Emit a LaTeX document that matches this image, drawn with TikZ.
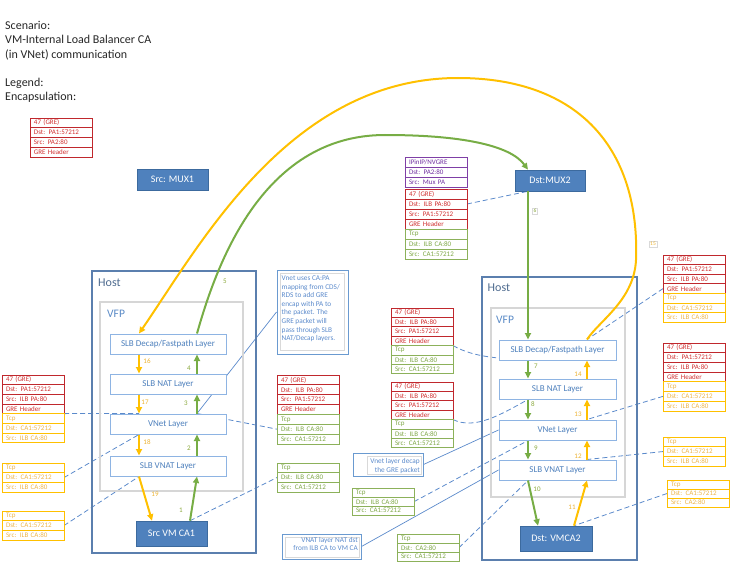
\documentclass[tikz,border=0pt]{standalone}
\usepackage{fontspec}
\setmainfont{Carlito}
\usetikzlibrary{arrows.meta}

\definecolor{boxblue}{HTML}{4F81BD}
\definecolor{boxedge}{HTML}{3C6A9E}
\definecolor{hostedge}{HTML}{5B7FAE}
\definecolor{hosttext}{HTML}{4E6B8F}
\definecolor{vfpedge}{HTML}{D6D6D6}
\definecolor{vfptext}{HTML}{5A8AC6}
\definecolor{layeredge}{HTML}{8EB4E3}
\definecolor{layertext}{HTML}{4F81BD}
\definecolor{linkblue}{HTML}{5B8ACB}
\definecolor{noteedge}{HTML}{6A9AD0}
\definecolor{notetext}{HTML}{5B8ACB}
\definecolor{greedge}{HTML}{C0282D}
\definecolor{gretext}{HTML}{D03030}
\definecolor{tcpgedge}{HTML}{8CB15A}
\definecolor{tcpgtext}{HTML}{7EA746}
\definecolor{tcpyedge}{HTML}{FFC000}
\definecolor{tcpytext}{HTML}{EDB54A}
\definecolor{ipedge}{HTML}{7F3FA6}
\definecolor{iptext}{HTML}{7030A0}
\definecolor{flowgreen}{HTML}{77AD45}
\definecolor{flowyellow}{HTML}{FFC000}
\definecolor{stepgreen}{HTML}{8AA83C}
\definecolor{stepyellow}{HTML}{EBB12F}

\pgfdeclarelayer{links}
\pgfsetlayers{links,main}

% one header row of a packet stack
\newcommand\pkrow[4]{\node[prow,#2] (#1) at (#3) {#4};}

\begin{document}
\begin{tikzpicture}[x=1pt,y=-1pt,
  title/.style={anchor=base west, inner sep=0, font=\fontsize{12}{14}\selectfont, text=black!85},
  hostbox/.style={draw=hostedge, line width=1.1pt, inner sep=0},
  hostlbl/.style={anchor=base west, inner sep=0, font=\fontsize{12}{14}\selectfont, text=hosttext},
  vfpbox/.style={draw=vfpedge, line width=1.6pt, inner sep=0},
  vfplbl/.style={anchor=base west, inner sep=0, font=\fontsize{11.5}{13}\selectfont, text=vfptext},
  layer/.style={draw=layeredge, fill=white, line width=1pt, minimum height=20, inner sep=0,
    text=layertext, font=\fontsize{9}{10}\selectfont},
  endpoint/.style={draw=boxedge, fill=boxblue, line width=0.6pt, inner sep=0, text=white,
    font=\fontsize{10}{12}\selectfont},
  prow/.style={draw, fill=white, line width=0.8pt, outer sep=0, minimum width=62, minimum height=9.6,
    inner xsep=4pt, inner ysep=0pt, text width=54, align=left, anchor=north west,
    font=\fontsize{7}{8}\selectfont},
  gre/.style={draw=greedge, text=gretext},
  tcpg/.style={draw=tcpgedge, text=tcpgtext},
  tcpy/.style={draw=tcpyedge, text=tcpytext},
  ipip/.style={draw=ipedge, text=iptext},
  link/.style={draw=linkblue, line width=0.8pt, dash pattern=on 5pt off 3pt},
  notelink/.style={draw=linkblue, line width=0.7pt},
  flowg/.style={draw=flowgreen, line width=2pt, -{Triangle[length=6.5pt,width=6pt]}},
  flowy/.style={draw=flowyellow, line width=2pt, -{Triangle[length=6.5pt,width=6pt]}},
  stepg/.style={inner sep=0, font=\fontsize{7}{8}\selectfont, text=stepgreen},
  stepy/.style={inner sep=0, font=\fontsize{7}{8}\selectfont, text=stepyellow},
  tag/.style={draw=black!15, line width=0.4pt, inner sep=1pt, font=\fontsize{5.5}{6}\selectfont},
  noteout/.style={draw=noteedge, line width=1pt, inner sep=0},
  notein/.style={draw=black!15, line width=0.6pt, inner sep=0},
  notetxt/.style={inner sep=0, text=notetext, font=\fontsize{7.3}{8.6}\selectfont}
]
\useasboundingbox (0,0) rectangle (731,567);

% heading
\node[title] (t1) at (5,29.3) {Scenario:};
\node[title] (t2) at (5,44) {VM-Internal Load Balancer CA};
\node[title] (t3) at (5,58.5) {(in VNet) communication};
\node[title] (t4) at (5,86.5) {Legend:};
\node[title] (t5) at (5,101) {Encapsulation:};

% legend stack
\begin{scope}[prow/.append style={minimum height=9.75}]
\pkrow{lg1}{gre}{30,118}{47 (GRE)}
\pkrow{lg2}{gre}{lg1.south west}{Dst: PA1:57212}
\pkrow{lg3}{gre}{lg2.south west}{Src: PA2:80}
\pkrow{lg4}{gre}{lg3.south west}{GRE Header}
\end{scope}

% muxes
\node[endpoint, minimum width=71, minimum height=21] (mux1) at (172.5,179.5) {Src: MUX1};
\node[endpoint, minimum width=70, minimum height=21] (mux2) at (550,180.5) {Dst:MUX2};

% source host
\node[hostbox, minimum width=164, minimum height=282] (lHost) at (174,412) {};
\node[hostlbl] (lHostT) at (98,286.5) {Host};
\node[vfpbox, minimum width=143, minimum height=189] (lVFP) at (171.5,396.5) {};
\node[vfplbl] (lVFPT) at (107,317) {VFP};
\node[layer, minimum width=116] (lDecap) at (168,344) {SLB Decap/Fastpath Layer};
\node[layer, minimum width=116] (lNAT) at (168,384) {SLB NAT Layer};
\node[layer, minimum width=116] (lVNet) at (168,424) {VNet Layer};
\node[layer, minimum width=116] (lVNAT) at (168,466) {SLB VNAT Layer};
\node[endpoint, minimum width=71, minimum height=25] (lVM) at (171.5,533.5) {Src VM CA1};

% destination host
\node[hostbox, minimum width=155, minimum height=283] (rHost) at (559.5,418.5) {};
\node[hostlbl] (rHostT) at (487.5,291.5) {Host};
\node[vfpbox, minimum width=134, minimum height=189] (rVFP) at (558,402.5) {};
\node[vfplbl] (rVFPT) at (496,323) {VFP};
\node[layer, minimum width=117] (rDecap) at (557.5,350) {SLB Decap/Fastpath Layer};
\node[layer, minimum width=117] (rNAT) at (557.5,389) {SLB NAT Layer};
\node[layer, minimum width=117] (rVNet) at (557.5,430) {VNet Layer};
\node[layer, minimum width=117] (rVNAT) at (557.5,470) {SLB VNAT Layer};
\node[endpoint, minimum width=72, minimum height=25] (rVM) at (556,538.5) {Dst: VMCA2};

% lanes of the two flows
\coordinate (lY) at (139,0);  \coordinate (lY0) at (152,0);
\coordinate (lG) at (197,0);  \coordinate (lG0) at (190,0);
\coordinate (rG) at (528,0);  \coordinate (rG0) at (538,0);
\coordinate (rY) at (587,0);  \coordinate (rY0) at (574,0);

% packet stacks, source side
\begin{scope}[prow/.append style={minimum height=9.65}]
\pkrow{la1}{gre}{2,375}{47 (GRE)}
\pkrow{la2}{gre}{la1.south west}{Dst: PA1:57212}
\pkrow{la3}{gre}{la2.south west}{Src: ILB PA:80}
\pkrow{la4}{gre}{la3.south west}{GRE Header}
\pkrow{la5}{tcpy}{la4.south west}{Tcp}
\pkrow{la6}{tcpy}{la5.south west}{Dst: CA1:57212}
\pkrow{la7}{tcpy}{la6.south west}{Src: ILB CA:80}
\end{scope}
\begin{scope}[prow/.append style={minimum height=9.7}]
\pkrow{lb1}{tcpy}{2,463}{Tcp}
\pkrow{lb2}{tcpy}{lb1.south west}{Dst: CA1:57212}
\pkrow{lb3}{tcpy}{lb2.south west}{Src: ILB CA:80}
\pkrow{lc1}{tcpy}{2,511}{Tcp}
\pkrow{lc2}{tcpy}{lc1.south west}{Dst: CA1:57212}
\pkrow{lc3}{tcpy}{lc2.south west}{Src: ILB CA:80}
\end{scope}
\begin{scope}[prow/.append style={minimum height=9.85}]
\pkrow{ma1}{gre}{277,375}{47 (GRE)}
\pkrow{ma2}{gre}{ma1.south west}{Dst: ILB PA:80}
\pkrow{ma3}{gre}{ma2.south west}{Src: PA1:57212}
\pkrow{ma4}{gre}{ma3.south west}{GRE Header}
\pkrow{ma5}{tcpg}{ma4.south west}{Tcp}
\pkrow{ma6}{tcpg}{ma5.south west}{Dst: ILB CA:80}
\pkrow{ma7}{tcpg}{ma6.south west}{Src: CA1:57212}
\end{scope}
\begin{scope}[prow/.append style={minimum height=9.7}]
\pkrow{mb1}{tcpg}{277,463}{Tcp}
\pkrow{mb2}{tcpg}{mb1.south west}{Dst: ILB CA:80}
\pkrow{mb3}{tcpg}{mb2.south west}{Src: CA1:57212}
\end{scope}

% packet stack at the mux
\begin{scope}[prow/.append style={minimum height=10}]
\pkrow{mx1}{ipip}{405,157}{IPinIP/NVGRE}
\pkrow{mx2}{ipip}{mx1.south west}{Dst: PA2:80}
\pkrow{mx3}{ipip}{mx2.south west}{Src: Mux PA}
\pkrow{mx4}{gre}{405,189}{47 (GRE)}
\pkrow{mx5}{gre}{mx4.south west}{Dst: ILB PA:80}
\pkrow{mx6}{gre}{mx5.south west}{Src: PA1:57212}
\pkrow{mx7}{gre}{mx6.south west}{GRE Header}
\pkrow{mx8}{tcpg}{mx7.south west}{Tcp}
\pkrow{mx9}{tcpg}{mx8.south west}{Dst: ILB CA:80}
\pkrow{mx10}{tcpg}{mx9.south west}{Src: CA1:57212}
\end{scope}

% packet stacks, destination side
\begin{scope}[prow/.append style={minimum height=9.4}]
\pkrow{pa1}{gre}{391,308}{47 (GRE)}
\pkrow{pa2}{gre}{pa1.south west}{Dst: ILB PA:80}
\pkrow{pa3}{gre}{pa2.south west}{Src: PA1:57212}
\pkrow{pa4}{gre}{pa3.south west}{GRE Header}
\pkrow{pa5}{tcpg}{pa4.south west}{Tcp}
\pkrow{pa6}{tcpg}{pa5.south west}{Dst: ILB CA:80}
\pkrow{pa7}{tcpg}{pa6.south west}{Src: CA1:57212}
\pkrow{pb1}{gre}{391,382}{47 (GRE)}
\pkrow{pb2}{gre}{pb1.south west}{Dst: ILB PA:80}
\pkrow{pb3}{gre}{pb2.south west}{Src: PA1:57212}
\pkrow{pb4}{gre}{pb3.south west}{GRE Header}
\pkrow{pb5}{tcpg}{pb4.south west}{Tcp}
\pkrow{pb6}{tcpg}{pb5.south west}{Dst: ILB CA:80}
\pkrow{pb7}{tcpg}{pb6.south west}{Src: CA1:57212}
\end{scope}
\begin{scope}[prow/.append style={minimum height=9.1}]
\pkrow{gc1}{tcpg}{352,488}{Tcp}
\pkrow{gc2}{tcpg}{gc1.south west}{Dst: ILB CA:80}
\pkrow{gc3}{tcpg}{gc2.south west}{Src: CA1:57212}
\pkrow{gd1}{tcpg}{397,534}{Tcp}
\pkrow{gd2}{tcpg}{gd1.south west}{Dst: CA2:80}
\pkrow{gd3}{tcpg}{gd2.south west}{Src: CA1:57212}
\end{scope}

% packet stacks on the return path
\begin{scope}[prow/.append style={minimum height=9.6}]
\pkrow{qa1}{gre}{663,255}{47 (GRE)}
\pkrow{qa2}{gre}{qa1.south west}{Dst: PA1:57212}
\pkrow{qa3}{gre}{qa2.south west}{Src: ILB PA:80}
\pkrow{qa4}{gre}{qa3.south west}{GRE Header}
\pkrow{qa5}{tcpy}{qa4.south west}{Tcp}
\pkrow{qa6}{tcpy}{qa5.south west}{Dst: CA1:57212}
\pkrow{qa7}{tcpy}{qa6.south west}{Src: ILB CA:80}
\end{scope}
\begin{scope}[prow/.append style={minimum height=9.7}]
\pkrow{qb1}{gre}{663,343}{47 (GRE)}
\pkrow{qb2}{gre}{qb1.south west}{Dst: PA1:57212}
\pkrow{qb3}{gre}{qb2.south west}{Src: ILB PA:80}
\pkrow{qb4}{gre}{qb3.south west}{GRE Header}
\pkrow{qb5}{tcpy}{qb4.south west}{Tcp}
\pkrow{qb6}{tcpy}{qb5.south west}{Dst: CA1:57212}
\pkrow{qb7}{tcpy}{qb6.south west}{Src: ILB CA:80}
\pkrow{qc1}{tcpy}{663,437}{Tcp}
\pkrow{qc2}{tcpy}{qc1.south west}{Dst: CA1:57212}
\pkrow{qc3}{tcpy}{qc2.south west}{Src: ILB CA:80}
\end{scope}
\begin{scope}[prow/.append style={minimum height=9}]
\pkrow{qd1}{tcpy}{667,480}{Tcp}
\pkrow{qd2}{tcpy}{qd1.south west}{Dst: CA1:57212}
\pkrow{qd3}{tcpy}{qd2.south west}{Src: CA2:80}
\end{scope}

% notes
\node[noteout, minimum width=71, minimum height=84] (n1out) at (312.5,312) {};
\node[notein, minimum width=64, minimum height=77] (n1in) at (312.5,312) {};
\node[notetxt, anchor=north west, align=left] (n1txt) at (281.5,275.5)
  {Vnet uses CA:PA\\mapping from CDS/\\RDS to add GRE\\encap with PA  to\\the packet.  The\\GRE packet will\\pass through SLB\\NAT/Decap layers.};
\node[noteout, minimum width=70, minimum height=23] (n2out) at (388,464.5) {};
\node[notein, minimum width=54, minimum height=18] (n2in) at (394,465) {};
\node[notetxt, anchor=north east, align=right] (n2txt) at (420,458.5) {Vnet layer decap\\the GRE packet};
\node[noteout, minimum width=79, minimum height=25] (n3out) at (321.5,546.5) {};
\node[notein, minimum width=74, minimum height=20] (n3in) at (322,547) {};
\node[notetxt, anchor=north east, align=right] (n3txt) at (358,537) {VNAT layer NAT dst\\from ILB CA to VM CA};

% links from packet stacks and notes to the flow
\begin{pgfonlayer}{links}
\draw[link] (mx5.east) -- (mux2.south -| rG);
\draw[link] (la4.south east) -- (lVNet.north -| lY);
\draw[link] (lb2.east) -- (lVNet.south -| lY);
\draw[link] (lc2.east) -- (lVNAT.south -| lY);
\draw[link] (lVNet.north -| lG) -- (ma6.west);
\draw[link] (lVM.north -| lG0) -- (mb2.west);
\draw[notelink] (n1out.west) -- (lVNet.north -| lG);
\draw[link] (pa4.south east) .. controls (475,358) and (500,358) .. (rDecap.south -| rG);
\draw[link] (pb4.south east) .. controls (475,430) and (500,415) .. (rNAT.south -| rG);
\draw[notelink] (n2out.east) -- (rVNet.west);
\draw[link] (gc2.east) -- (rVNet.south -| rG);
\draw[notelink] (n3out.east) -- (rVNAT.west);
\draw[link] (gd2.east) -- (rVNAT.south -| rG);
\draw[link] (qa4.west) -- (rDecap.north -| rY);
\draw[link] (qb6.west) -- (rVNet.north -| rY);
\draw[link] (qc2.west) -- (rVNAT.north -| rY);
\draw[link] (qd2.west) -- (rVM.north -| rY0);
\end{pgfonlayer}

% forward flow (green)
\draw[flowg] (lVM.north -| lG0) -- (lVNAT.south -| lG);
\draw[flowg] (lVNAT.north -| lG) -- (lVNet.south -| lG);
\draw[flowg] (lVNet.north -| lG) -- (lNAT.south -| lG);
\draw[flowg] (lNAT.north -| lG) -- (lDecap.south -| lG);
\draw[flowg] (lDecap.north -| lG) .. controls (215,270) and (260,135) .. (385,135)
  .. controls (460,135) and (510,145) .. (mux2.north -| rG);
\draw[flowg] (mux2.south -| rG) -- (rDecap.north -| rG);
\draw[flowg] (rDecap.south -| rG) -- (rNAT.north -| rG);
\draw[flowg] (rNAT.south -| rG) -- (rVNet.north -| rG);
\draw[flowg] (rVNet.south -| rG) -- (rVNAT.north -| rG);
\draw[flowg] (rVNAT.south -| rG) -- (rVM.north -| rG0);

% return flow (yellow)
\draw[flowy] (rVM.north -| rY0) -- (rVNAT.south -| rY);
\draw[flowy] (rVNAT.north -| rY) -- (rVNet.south -| rY);
\draw[flowy] (rVNet.north -| rY) -- (rNAT.south -| rY);
\draw[flowy] (rNAT.north -| rY) -- (rDecap.south -| rY);
\draw[flowy] (rDecap.north -| rY) .. controls (600,320) and (634,300) .. (636,260)
  .. controls (640,150) and (580,78) .. (458,78)
  .. controls (290,78) and (200,245) .. (lDecap.north -| lY);
\draw[flowy] (lDecap.south -| lY) -- (lNAT.north -| lY);
\draw[flowy] (lNAT.south -| lY) -- (lVNet.north -| lY);
\draw[flowy] (lVNet.south -| lY) -- (lVNAT.north -| lY);
\draw[flowy] (lVNAT.south -| lY) -- (lVM.north -| lY0);

% step numbers
\node[stepg] (s1) at (181,510) {1};
\node[stepg] (s2) at (189,448) {2};
\node[stepg] (s3) at (186,403) {3};
\node[stepg] (s4) at (189,368) {4};
\node[stepg] (s5) at (225,281) {5};
\node[stepg, tag] (s6) at (535,211) {6};
\node[stepg] (s7) at (536,366) {7};
\node[stepg] (s8) at (533,404) {8};
\node[stepg] (s9) at (536,448) {9};
\node[stepg] (s10) at (537,489) {10};
\node[stepy] (s11) at (572,507) {11};
\node[stepy] (s12) at (578,456) {12};
\node[stepy] (s13) at (578,414) {13};
\node[stepy] (s14) at (578,374) {14};
\node[stepy, tag] (s15) at (653,244) {15};
\node[stepy] (s16) at (147,361) {16};
\node[stepy] (s17) at (145,402) {17};
\node[stepy] (s18) at (147,442) {18};
\node[stepy] (s19) at (155,494) {19};
\end{tikzpicture}
\end{document}
